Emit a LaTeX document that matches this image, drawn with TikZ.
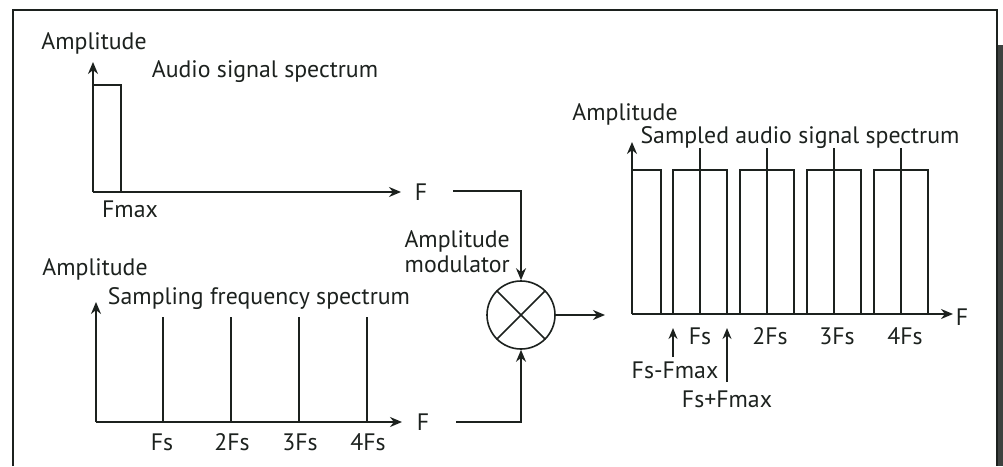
\documentclass[tikz,border=0pt]{standalone}
\usepackage{fontspec}
\setmainfont{PT Sans}
\usetikzlibrary{arrows.meta}
\definecolor{ink}{HTML}{1C211E}
\tikzset{
  lbl/.style={inner sep=0pt, anchor=base, text=ink, font=\fontsize{23.8}{28}\selectfont},
  ax/.style={draw=ink, line width=1.7pt, -{Stealth[length=12pt,width=10pt]}},
  ln/.style={draw=ink, line width=1.6pt},
  small/.style={draw=ink, line width=1.6pt, -{Stealth[length=11pt,width=9pt]}},
}
\begin{document}
\begin{tikzpicture}[x=1pt,y=-1pt]
\useasboundingbox (0,0) rectangle (1003,466);
% frame
\draw[ink, line width=1.6pt] (13,466) -- (13,10) -- (997,10) -- (997,466);
\fill[ink!85] (998,45) rectangle (1003,466);

% ---------- top panel ----------
\coordinate (o1) at (93,192);
\coordinate (y1) at (93,62);
\coordinate (x1) at (401,192);
\draw[ax] (o1) -- (y1);
\draw[ax] (o1) -- (x1);
\draw[ln] (93,85) -- (121,85) -- (121,192);
\node[lbl] (amp1) at (94,49) {Amplitude};
\node[lbl] (t1) at (265,77) {Audio signal spectrum};
\node[lbl] (fmax) at (130,217) {Fmax};
\node[lbl] (Ftop) at (421,200) {F};

% ---------- bottom-left panel ----------
\coordinate (o2) at (96,422);
\coordinate (y2) at (96,302);
\coordinate (x2) at (402,422);
\draw[ax] (o2) -- (y2);
\draw[ax] (o2) -- (x2);
\foreach \xx in {163,231,299,367} \draw[ln] (\xx,422) -- (\xx,317);
\node[lbl] (amp2) at (95,275) {Amplitude};
\node[lbl] (t2) at (259,304) {Sampling frequency spectrum};
\node[lbl] (s1) at (162,450) {Fs};
\node[lbl] (s2) at (232,450) {2Fs};
\node[lbl] (s3) at (300,450) {3Fs};
\node[lbl] (s4) at (368,450) {4Fs};
\node[lbl] (Fbot) at (423,430) {F};

% ---------- modulator ----------
\node[draw=ink, line width=1.6pt, circle, minimum size=68pt, inner sep=0pt] (mod) at (521,315) {};
\draw[ln] (mod.45) -- (mod.225);
\draw[ln] (mod.135) -- (mod.315);
\node[lbl, anchor=base east] (m1) at (510,247) {Amplitude};
\node[lbl, anchor=base east] (m2) at (510,272) {modulator};
\coordinate (ct) at (453,191);
\coordinate (cb) at (456,422);
\draw[ax] (ct) -| (mod.north);
\draw[ax] (cb) -| (mod.south);
\coordinate (oout) at (605,315);
\draw[ax] (mod.east) -- (oout);

% ---------- right panel ----------
\coordinate (o3) at (632,314);
\coordinate (y3) at (632,142);
\coordinate (x3) at (953,314);
\draw[ax] (o3) -- (y3);
\draw[ax] (o3) -- (x3);
\draw[ln] (632,170) -- (661,170) -- (661,314);
\foreach \c in {700,767,834,901} {
  \draw[ln] (\c-27,314) -- (\c-27,170) -- (\c+27,170) -- (\c+27,314);
  \draw[ln] (\c,314) -- (\c,148);
}
\node[lbl] (amp3) at (625,120) {Amplitude};
\node[lbl] (t3) at (800,143) {Sampled audio signal spectrum};
\node[lbl] (F3) at (962,325) {F};
\node[lbl] (r1) at (700,344) {Fs};
\node[lbl] (r2) at (770,344) {2Fs};
\node[lbl] (r3) at (837,344) {3Fs};
\node[lbl] (r4) at (905,344) {4Fs};
\node[lbl] (fsm) at (675,378) {Fs-Fmax};
\node[lbl] (fsp) at (727,407) {Fs+Fmax};
\coordinate (a1) at (673,328);
\coordinate (a2) at (727,328);
\draw[small] (673,357) -- (a1);
\draw[small] (727,382) -- (a2);
\end{tikzpicture}
\end{document}
